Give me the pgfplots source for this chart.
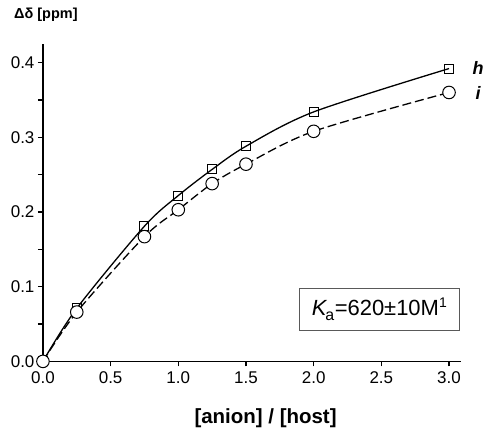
\documentclass[border=0pt]{standalone}
\usepackage{fontspec}
\setmainfont{Liberation Sans}
\usepackage{pgfplots}
\pgfplotsset{compat=1.18}
\begin{document}
\begin{tikzpicture}
\begin{axis}[
  scale only axis, width=419pt, height=318pt,
  xmin=0, xmax=3.09, ymin=0, ymax=0.425,
  axis x line*=bottom, axis y line*=left,
  axis line style={line width=1.6pt},
  every tick/.style={line width=1.4pt, black},
  major tick length=5pt, minor tick length=5pt,
  tick align=outside,
  xtick={0,0.5,...,3.0},
  ytick={0,0.1,0.2,0.3,0.4},
  minor ytick={0.05,0.15,0.25,0.35},
  /pgf/number format/assume math mode=true,
  xticklabel style={/pgf/number format/.cd, fixed, fixed zerofill, precision=1},
  yticklabel style={/pgf/number format/.cd, fixed, fixed zerofill, precision=1},
  tick label style={font=\fontsize{17}{20}\selectfont},
  xticklabel shift=2pt,
  yticklabel shift=0pt,
  clip=false,
]
\addplot[black, line width=1.3pt, smooth, tension=0.5, mark=square, mark size=4.5pt, mark options={solid, fill=white, line width=1pt}]
coordinates {(0,0) (0.25,0.071) (0.75,0.181) (1.0,0.222) (1.25,0.257) (1.5,0.288) (2.0,0.334) (3.0,0.392)};
\addplot[black, line width=1.3pt, smooth, tension=0.5, dash pattern=on 9pt off 4pt, mark=*, mark size=6.3pt, mark options={solid, fill=white, line width=1pt}]
coordinates {(0,0) (0.25,0.066) (0.75,0.167) (1.0,0.203) (1.25,0.238) (1.5,0.264) (2.0,0.308) (3.0,0.360)};
\end{axis}
\node[font=\bfseries\fontsize{14.5}{16}\selectfont] at (3pt,347pt) {Δδ [ppm]};
\node[font=\bfseries\fontsize{20.5}{22}\selectfont] at (223pt,-57pt) {[anion] / [host]};
\node[font=\bfseries\itshape\fontsize{18}{20}\selectfont] at (436pt,294pt) {h};
\node[font=\bfseries\itshape\fontsize{18}{20}\selectfont] at (436pt,269pt) {i};
\draw[gray!70!black, line width=0.9pt] (257pt,31pt) rectangle (417pt,73pt);
\node[font=\fontsize{22}{24}\selectfont, inner sep=0pt] at (337pt,52pt) {\textit{K}\kern-2pt\raisebox{-5pt}{\fontsize{16}{17}\selectfont a}\kern0.5pt=620±10M\raisebox{8pt}{\fontsize{14}{15}\selectfont 1}};
\path[use as bounding box] (-43pt,-67pt) rectangle (444pt,362pt);
\end{tikzpicture}
\end{document}
